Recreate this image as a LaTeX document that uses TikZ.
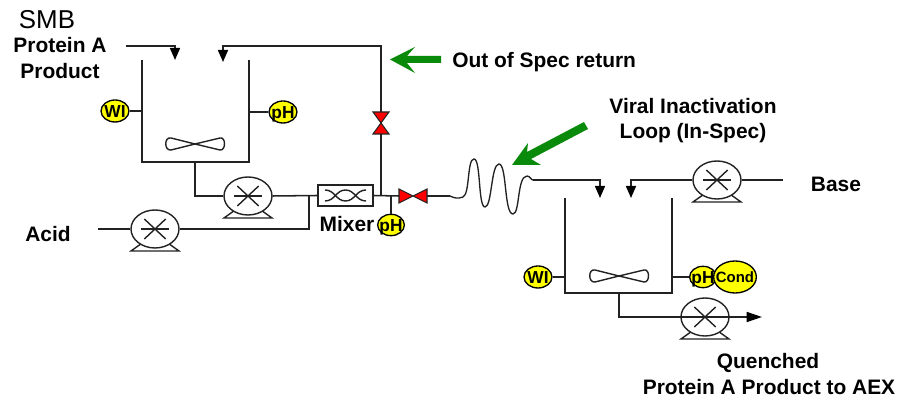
\documentclass[tikz,border=0pt]{standalone}
\usepackage{fontspec}
\setmainfont{Liberation Sans}
\usetikzlibrary{arrows.meta,shapes.geometric}
\definecolor{pipeink}{HTML}{222222}
\definecolor{flowgreen}{HTML}{0A8A0A}
\definecolor{probe}{HTML}{FFFF00}
\tikzset{
  x=0.75pt,y=-0.75pt,
  pipe/.style={draw=pipeink,line width=1.15pt,line join=miter},
  thin ink/.style={draw=pipeink,line width=1.05pt},
  feed/.style={pipe,-{Triangle[width=7.5pt,length=9pt,color=black]}},
  longfeed/.style={pipe,-{Triangle[width=7.5pt,length=11.5pt,color=black]}},
  lbl/.style={anchor=base,font=\fontsize{15.7}{18}\selectfont\bfseries,inner sep=0pt},
  probebox/.style={ellipse,draw=black,line width=1pt,fill=probe,inner sep=0pt,font=\fontsize{13}{13}\selectfont\bfseries},
  pumpbody/.style={ellipse,draw=pipeink,line width=1.05pt,minimum width=36pt,minimum height=28.5pt,inner sep=0pt,fill=white},
  green arrow/.style={fill=flowgreen,draw=none},
  valvered/.style={fill=red,draw=pipeink,line width=0.8pt,line join=miter},
}
\newcommand{\probetext}[1]{\makebox[0pt]{\raisebox{-0.36em}[0pt][0pt]{#1}}}
\newcommand{\probenode}[5]{\node[probebox,minimum width=#3,minimum height=#4] (#1) at #2 {\probetext{#5}};}
\newcommand{\pumpat}[2]{%
  \node[pumpbody] (#1) at #2 {};
  \draw[thin ink] ([xshift=-8pt,yshift=7.5pt]#1.center) -- ([xshift=8pt,yshift=-7.5pt]#1.center);
  \draw[thin ink] ([xshift=-8pt,yshift=-7.5pt]#1.center) -- ([xshift=8pt,yshift=7.5pt]#1.center);
  \draw[thin ink] ([xshift=-10.5pt]#1.center) -- ([xshift=10.5pt]#1.center);
  \draw[thin ink] ([xshift=-11pt,yshift=-11.5pt]#1.center) -- ([xshift=-18pt,yshift=-16.5pt]#1.center) -- ([xshift=18pt,yshift=-16.5pt]#1.center) -- ([xshift=11pt,yshift=-11.5pt]#1.center);
}
\newcommand{\bladeat}[1]{%
  \begin{scope}[shift={#1}]
  \draw[thin ink] (0,0) -- (-24,-6) .. controls (-31,-7.5) and (-31,7) .. (-24,6) -- (0,0)
   -- (25,-6) .. controls (31,-7.5) and (31,7) .. (25,6) -- (0,0);
  \end{scope}
}
\begin{document}
\begin{tikzpicture}
\useasboundingbox (0,0) rectangle (915,398);

% ---- tanks
\draw[pipe] (142,60) -- (142,162) -- (249,162) -- (249,60);
\draw[pipe] (565,198) -- (565,293) -- (672,293) -- (672,198);
\bladeat{(195,144)}
\bladeat{(619,276)}

% ---- free ends and junctions
\coordinate (feedstart) at (126,46);
\coordinate (feedturn) at (175,46);
\coordinate (feedtip) at (175,60);
\coordinate (rettip) at (223,62);
\coordinate (retturn) at (223,46);
\coordinate (retcorner) at (381,46);
\coordinate (teeup) at (381,196);
\coordinate (tank1out) at (195,162);
\coordinate (tank1turn) at (195,196);
\coordinate (tank2out) at (619,293);
\coordinate (tank2turn) at (619,317);
\coordinate (prodtip) at (762,317);
\coordinate (acidstart) at (98,229);
\coordinate (acidturn) at (309,229);
\coordinate (acidjoin) at (309,196);
\coordinate (basestart) at (783,180);
\coordinate (coilin) at (450,196);
\coordinate (coilout) at (533,180);
\coordinate (inact1) at (600,180);
\coordinate (inact1tip) at (600,198);
\coordinate (base1) at (631,180);
\coordinate (base1tip) at (631,198);
\coordinate (phtee) at (391,196);

% ---- pumps
\pumpat{pumpa}{(248,196)}
\pumpat{pumpb}{(155,229)}
\pumpat{pumpc}{(717,180)}
\pumpat{pumpd}{(705,317)}

% ---- mixer
\node[draw=pipeink,line width=1.05pt,minimum width=41pt,minimum height=15.5pt,inner sep=0pt] (mixer) at (345.5,195.5) {};
\draw[thin ink] (325,190) .. controls (335,190) and (336,201) .. (345.5,201) .. controls (355,201) and (356,190) .. (366,190);
\draw[thin ink] (325,201) .. controls (335,201) and (336,190) .. (345.5,190) .. controls (355,190) and (356,201) .. (366,201);

% ---- valves
\draw[valvered] (373,112) -- (389,112) -- (373,134) -- (389,134) -- cycle;
\draw[valvered] (399,189) -- (399,203) -- (427,189) -- (427,203) -- cycle;

% ---- piping
\draw[feed] (feedstart) -- (feedturn) -- (feedtip);
\draw[feed] (381,112) -- (retcorner) -- (retturn) -- (rettip);
\draw[pipe] (teeup) -- (381,134);
\draw[pipe] (mixer.east) -- (399,196);
\draw[pipe] (tank1out) -- (tank1turn) -- (pumpa.west);
\draw[pipe] (pumpa.east) -- (mixer.west);
\draw[pipe] (acidstart) -- (pumpb.west);
\draw[pipe] (pumpb.east) -- (acidturn) -- (acidjoin);
\draw[pipe] (427,196) -- (coilin);
\draw[pipe,line width=1pt] (coilin) .. controls (454,198) and (458,199) .. (463,197)
  .. controls (470,194) and (467,159) .. (474,159)
  .. controls (481,159) and (478,207) .. (485,207)
  .. controls (492,207) and (491,164) .. (499,164)
  .. controls (507,164) and (504,214) .. (513,214)
  .. controls (520,214) and (517,176) .. (527,176)
  .. controls (530,176) and (531,180) .. (coilout);
\draw[feed] (coilout) -- (inact1) -- (inact1tip);
\draw[feed] (pumpc.west) -- (base1) -- (base1tip);
\draw[pipe] (pumpc.east) -- (basestart);
\draw[pipe] (tank2out) -- (tank2turn) -- (pumpd.west);
\draw[longfeed] (pumpd.center) -- (prodtip);
\draw[pipe] (pumpd.west) -- (pumpd.center);

% ---- probes
\probenode{wia}{(115,111)}{21pt}{16.5pt}{WI}
\probenode{pha}{(283,112)}{21pt}{16.5pt}{pH}
\probenode{phm}{(391,225)}{20pt}{16pt}{pH}
\probenode{wib}{(538,277)}{21pt}{16.5pt}{WI}
\probenode{phb}{(703,277)}{20pt}{16pt}{pH}
\node[probebox,minimum width=32pt,minimum height=24pt,font=\fontsize{11.2}{12}\selectfont\bfseries] (cond) at (735,277) {\probetext{Cond}};
\draw[pipe] (wia.east) -- (142,111);
\draw[pipe] (249,112) -- (pha.west);
\draw[pipe] (phtee) -- (phm.north);
\draw[pipe] (wib.east) -- (565,277);
\draw[pipe] (672,277) -- (phb.west);

% ---- green arrows
\fill[green arrow] (390,59.5) -- (415,47) -- (407,56) -- (441,56) -- (441,63) -- (407,63) -- (415,73) -- cycle;
\fill[green arrow] (512,165) -- (528,143) -- (527,152) -- (584,122) -- (588,129) -- (531,159) -- (541,165) -- cycle;

% ---- labels
\node[anchor=base,font=\fontsize{19.4}{22}\selectfont,inner sep=0pt] (smb) at (47,29) {SMB};
\node[lbl] (lprot) at (60,53) {Protein A};
\node[lbl] (lprod) at (60,79) {Product};
\node[lbl,anchor=base west] (loos) at (452,68) {Out of Spec return};
\node[lbl] (lvir) at (693,113.5) {Viral Inactivation};
\node[lbl] (lloop) at (693,138.5) {Loop (In-Spec)};
\node[lbl] (lbase) at (836,191.5) {Base};
\node[lbl] (lacid) at (48,242) {Acid};
\node[lbl] (lmix) at (347,232) {Mixer};
\node[lbl] (lq) at (768,369) {Quenched};
\node[lbl] (lp) at (769,394.5) {Protein A Product to AEX};
\end{tikzpicture}
\end{document}
